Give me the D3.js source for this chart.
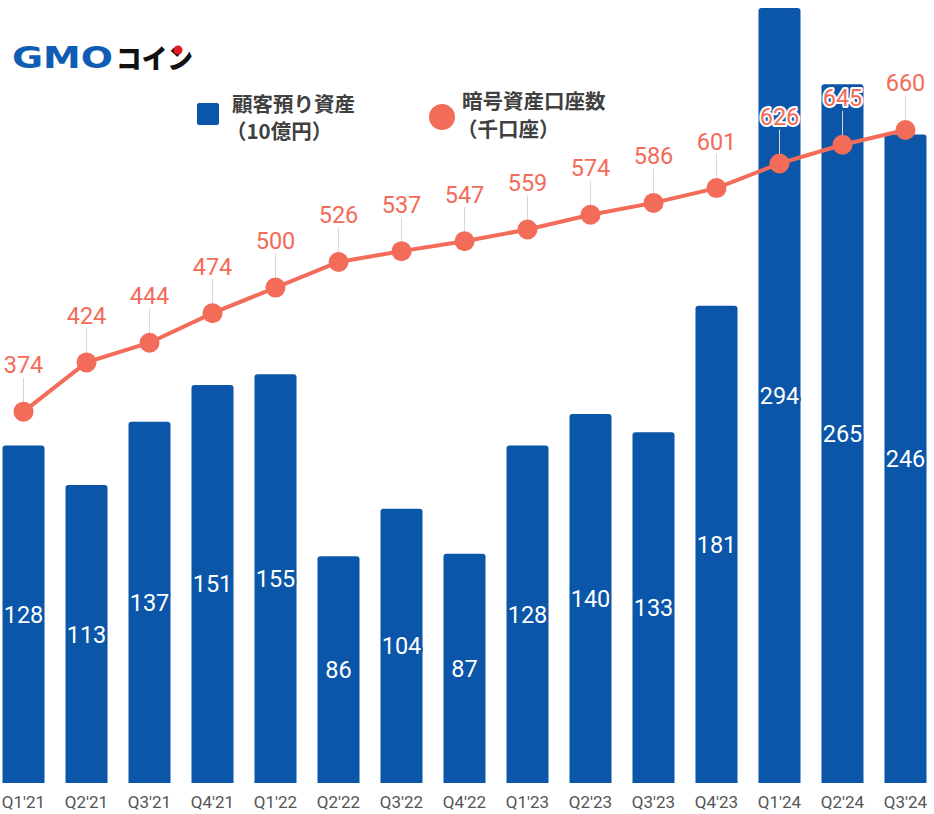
<!DOCTYPE html>
<html><head><meta charset="utf-8">
<script src="https://cdn.jsdelivr.net/npm/d3@7"></script>
<style>html,body{margin:0;padding:0;background:#fff;}svg{display:block;}</style>
</head><body>
<script>
const categories = ["Q1'21","Q2'21","Q3'21","Q4'21","Q1'22","Q2'22","Q3'22","Q4'22","Q1'23","Q2'23","Q3'23","Q4'23","Q1'24","Q2'24","Q3'24"];
const assets = [128,113,137,151,155,86,104,87,128,140,133,181,294,265,246];
const accounts = [374,424,444,474,500,526,537,547,559,574,586,601,626,645,660];
const legendAssets = ["顧客預り資産","（10億円）"];
const legendAccounts = ["暗号資産口座数","（千口座）"];

const W = 934, H = 814;
const BLUE = "#0b56a8", SALMON = "#f36b59";
const svg = d3.select("body").append("svg").attr("width", W).attr("height", H);

const x = d3.scaleBand().domain(categories).range([-8, 937]).paddingInner(0.333).paddingOuter(0.1667);
const yBar = d3.scaleLinear().domain([0, 297]).range([783, 0]);
const yLine = d3.scaleLinear().domain([0, 792]).range([780, 0]);

// bars
svg.append("g").selectAll("path").data(assets).join("path")
  .attr("fill", BLUE)
  .attr("d", (d, i) => {
    const x0 = x(categories[i]), w = x.bandwidth(), y0 = yBar(d), y1 = yBar(0), r = 3;
    return `M${x0},${y1}V${y0 + r}Q${x0},${y0} ${x0 + r},${y0}H${x0 + w - r}Q${x0 + w},${y0} ${x0 + w},${y0 + r}V${y1}Z`;
  });

// bar labels
svg.append("g").selectAll("text").data(assets).join("text")
  .attr("x", (d, i) => x(categories[i]) + x.bandwidth() / 2)
  .attr("y", d => (yBar(d) + yBar(0)) / 2)
  .attr("dy", "0.36em")
  .attr("text-anchor", "middle")
  .attr("font-family", "Roboto, sans-serif")
  .attr("font-size", 23.5)
  .attr("fill", "#fff")
  .attr("stroke", BLUE).attr("stroke-width", 4).attr("stroke-linejoin", "round")
  .attr("paint-order", "stroke")
  .text(d => d);

// x axis labels
const xAxis = d3.axisBottom(x).tickSize(0).tickPadding(13);
const gx = svg.append("g").attr("transform", `translate(0,${783})`).call(xAxis);
gx.select(".domain").remove();
gx.selectAll("text").attr("font-family", "Roboto, sans-serif").attr("font-size", 17).attr("fill", "#555");

const cx = (i) => x(categories[i]) + x.bandwidth() / 2;

// leader lines
svg.append("g").selectAll("line").data(accounts).join("line")
  .attr("x1", (d, i) => cx(i)).attr("x2", (d, i) => cx(i))
  .attr("y1", d => yLine(d) - 34).attr("y2", d => yLine(d))
  .attr("stroke", "#d8d8d8").attr("stroke-width", 1);

// line
const line = d3.line().x((d, i) => cx(i)).y(d => yLine(d));
svg.append("path").datum(accounts).attr("d", line)
  .attr("fill", "none").attr("stroke", SALMON).attr("stroke-width", 4);

svg.append("g").selectAll("circle").data(accounts).join("circle")
  .attr("cx", (d, i) => cx(i)).attr("cy", d => yLine(d)).attr("r", 10)
  .attr("fill", SALMON);

// line labels
svg.append("g").selectAll("text").data(accounts).join("text")
  .attr("x", (d, i) => cx(i))
  .attr("y", d => yLine(d) - 47)
  .attr("dy", "0.36em")
  .attr("text-anchor", "middle")
  .attr("font-family", "Roboto, sans-serif")
  .attr("font-size", 23.5)
  .attr("fill", SALMON)
  .attr("stroke", "#fff").attr("stroke-width", 4).attr("stroke-linejoin", "round")
  .attr("paint-order", "stroke")
  .text(d => d);

// legend
const lg = svg.append("g");
const lf = (sel) => sel.attr("font-family", "'Noto Sans CJK JP', sans-serif").attr("font-weight", "bold").attr("font-size", 20.5).attr("fill", "#404040");
lg.append("rect").attr("x", 197).attr("y", 103).attr("width", 22).attr("height", 22).attr("rx", 2).attr("fill", BLUE);
lf(lg.append("text").attr("x", 232).attr("y", 112)).text(legendAssets[0]);
lf(lg.append("text").attr("x", 226).attr("y", 139)).text(legendAssets[1]);
lg.append("circle").attr("cx", 442).attr("cy", 117).attr("r", 13).attr("fill", SALMON);
lf(lg.append("text").attr("x", 462).attr("y", 109)).text(legendAccounts[0]);
lf(lg.append("text").attr("x", 457).attr("y", 137)).text(legendAccounts[1]);

// logo
const logo = svg.append("g");
logo.append("text").attr("x", 12).attr("y", 68).attr("font-family", "'DejaVu Sans', sans-serif").attr("font-weight", "bold")
  .attr("font-size", 30).attr("fill", "#0f5cb5").attr("textLength", 101).attr("lengthAdjust", "spacingAndGlyphs").text("GMO");
logo.append("text").attr("x", 116).attr("y", 69).attr("font-family", "'Noto Sans CJK JP', sans-serif").attr("font-weight", "900")
  .attr("font-size", 27).attr("fill", "#111").attr("textLength", 77).attr("lengthAdjust", "spacingAndGlyphs").text("コイン");
logo.append("circle").attr("cx", 178).attr("cy", 50).attr("r", 4.5).attr("fill", "#e01b22");
</script>
</body></html>
